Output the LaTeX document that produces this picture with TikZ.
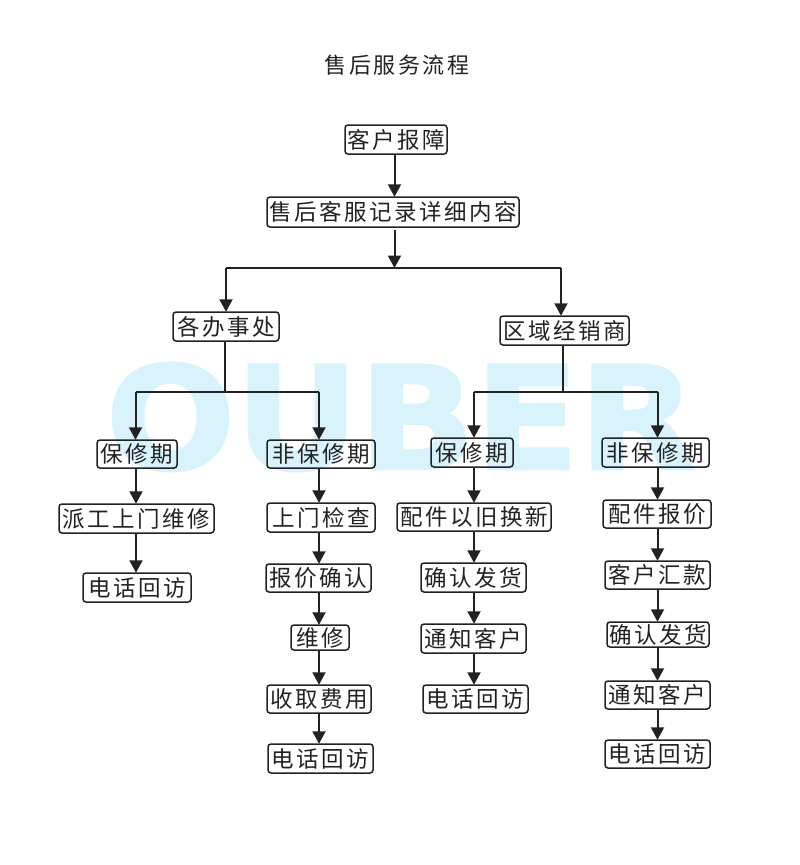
\documentclass[tikz,border=0pt]{standalone}
\usepackage{fontspec}
\usetikzlibrary{arrows.meta,calc}
\newfontfamily\cjk[LetterSpace=11]{Noto Sans CJK SC}
\newfontfamily\wm[FakeBold=2]{DejaVu Sans Bold}
\definecolor{ink}{HTML}{222222}
\definecolor{wmblue}{HTML}{D9F3FD}
\tikzset{
  flowbox/.style={draw=ink,line width=1.5pt,rounded corners=3pt,inner sep=0pt,text=ink,
    font=\cjk\fontsize{22.5}{24}\selectfont,align=center},
  flowarrow/.style={draw=ink,line width=2pt,-{Triangle[length=12.5pt,width=13pt]},shorten >=-0.5pt},
  flowline/.style={draw=ink,line width=2pt},
  titletext/.style={text=ink,inner sep=0pt,font=\cjk\fontsize{22}{24}\selectfont},
  watermark/.style={text=wmblue,inner sep=0pt,anchor=base,xscale=1.065,font=\wm\fontsize{143}{143}\selectfont}
}
\newcommand{\bx}[6]{%
  \pgfmathsetmacro{\bxw}{#4-#2}\pgfmathsetmacro{\bxh}{#5-#3}%
  \pgfmathsetmacro{\bxcx}{(#4+#2)/2}\pgfmathsetmacro{\bxcy}{(#5+#3)/2}%
  \node[flowbox,minimum width=\bxw pt,minimum height=\bxh pt] (#1) at (\bxcx,\bxcy) {#6};}
\newcommand{\ar}[3]{\draw[flowarrow] (#1.south -| #3) -- (#2.north -| #3);}
\begin{document}
\begin{tikzpicture}[x=1pt,y=-1pt]
\useasboundingbox[fill=white] (0,0) rectangle (800,865);
\node[watermark] (wm) at (401,469) {OUBER};
\node[titletext] (title) at (397,65) {售后服务流程};
% column guide coordinates
\coordinate (c0) at (394.5,0);
\coordinate (c1) at (136,0);
\coordinate (c2) at (319,0);
\coordinate (c3) at (474,0);
\coordinate (c4) at (657.5,0);
\coordinate (l0) at (226,267.5);
\coordinate (r0) at (561,267.5);
\coordinate (m0) at (394.5,267.5);
\coordinate (l1) at (135.5,392);
\coordinate (l2) at (319,392);
\coordinate (lm) at (225,392);
\coordinate (r1) at (474,392);
\coordinate (r2) at (657.5,392);
\coordinate (rm) at (563,392);
\bx{a}{345}{125}{447}{154}{客户报障}
\bx{b}{267}{197}{519}{227}{售后客服记录详细内容}
\bx{o}{173}{312}{279}{341}{各办事处}
\bx{d}{500}{316}{629}{345}{区域经销商}
\bx{p1}{97}{440}{177}{468}{保修期}
\bx{p2}{267}{440}{375}{468}{非保修期}
\bx{p3}{431}{438}{513}{467}{保修期}
\bx{p4}{602}{438}{709}{467}{非保修期}
\bx{s11}{59}{504}{214}{533}{派工上门维修}
\bx{s12}{83}{573}{191}{602}{电话回访}
\bx{s21}{267}{503}{375}{532}{上门检查}
\bx{s22}{266}{564}{371}{592}{报价确认}
\bx{s23}{291}{625}{349}{650}{维修}
\bx{s24}{267}{685}{371}{713}{收取费用}
\bx{s25}{268}{744}{373}{773}{电话回访}
\bx{s31}{397}{503}{551}{531}{配件以旧换新}
\bx{s32}{421}{563}{526}{592}{确认发货}
\bx{s33}{421}{624}{526}{653}{通知客户}
\bx{s34}{423}{685}{528}{713}{电话回访}
\bx{s41}{603}{500}{711}{528}{配件报价}
\bx{s42}{605}{561}{710}{589}{客户汇款}
\bx{s43}{607}{622}{709}{647}{确认发货}
\bx{s44}{605}{681}{710}{709}{通知客户}
\bx{s45}{605}{740}{710}{768}{电话回访}
% top
\ar{a}{b}{c0}
\draw[flowarrow] ($(b.south -| c0)+(0,2)$) -- (m0);
\draw[flowline] (l0) -- (r0);
\draw[flowarrow] (l0) -- (l0 |- o.north);
\draw[flowarrow] (r0) -- (r0 |- d.north);
% branch left
\draw[flowline] (o.south -| lm) -- (lm);
\draw[flowline] (l1) -- (l2);
\draw[flowarrow] (l1) -- (l1 |- p1.north);
\draw[flowarrow] (l2) -- (l2 |- p2.north);
% branch right
\draw[flowline] (d.south -| rm) -- (rm);
\draw[flowline] (r1) -- (r2);
\draw[flowarrow] (r1) -- (r1 |- p3.north);
\draw[flowarrow] (r2) -- (r2 |- p4.north);
% columns
\ar{p1}{s11}{c1}\ar{s11}{s12}{c1}
\ar{p2}{s21}{c2}\ar{s21}{s22}{c2}\ar{s22}{s23}{c2}\ar{s23}{s24}{c2}\ar{s24}{s25}{c2}
\ar{p3}{s31}{c3}\ar{s31}{s32}{c3}\ar{s32}{s33}{c3}\ar{s33}{s34}{c3}
\ar{p4}{s41}{c4}\ar{s41}{s42}{c4}\ar{s42}{s43}{c4}\ar{s43}{s44}{c4}\ar{s44}{s45}{c4}
\end{tikzpicture}
\end{document}
